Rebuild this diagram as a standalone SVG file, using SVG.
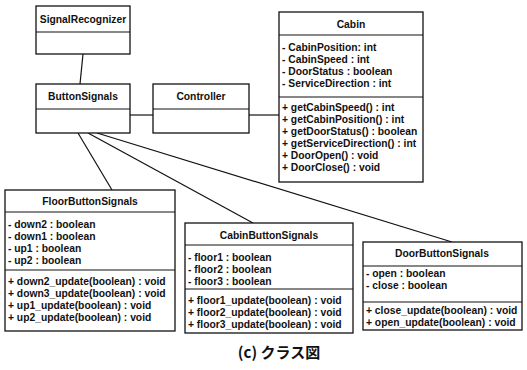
<svg xmlns="http://www.w3.org/2000/svg" width="527" height="370" viewBox="0 0 527 370">
<style>
.box{fill:#fff;stroke:#111;stroke-width:1.3}
.div{stroke:#111;stroke-width:1.1}
.t{font-family:"Liberation Sans",Arial,sans-serif;font-size:10.3px;font-weight:bold;fill:#111}
.c{text-anchor:middle}
.ln{stroke:#111;stroke-width:1.2;fill:none}
.cap{font-family:"Noto Sans CJK JP","Liberation Sans",sans-serif;font-size:15px;font-weight:bold;fill:#111;text-anchor:middle}
</style>
<rect width="527" height="370" fill="#fff"/>
<g id="connectors">
<line class="ln" x1="83" y1="54" x2="80" y2="84"/>
<line class="ln" x1="130" y1="115" x2="153" y2="115"/>
<line class="ln" x1="249" y1="115" x2="279" y2="115"/>
<line class="ln" x1="78" y1="133" x2="112" y2="190"/>
<line class="ln" x1="88" y1="133" x2="253" y2="223"/>
<line class="ln" x1="97" y1="133" x2="452" y2="242"/>
</g>
<g id="SignalRecognizer">
<rect class="box" x="36" y="6" width="94" height="48"/>
<line class="div" x1="36" y1="32" x2="130" y2="32"/>
<text class="t c" x="83" y="23">SignalRecognizer</text>
</g>
<g id="ButtonSignals">
<rect class="box" x="36" y="84" width="94" height="49"/>
<line class="div" x1="36" y1="109" x2="130" y2="109"/>
<text class="t c" x="83" y="100">ButtonSignals</text>
</g>
<g id="Controller">
<rect class="box" x="153" y="84" width="96" height="49"/>
<line class="div" x1="153" y1="109" x2="249" y2="109"/>
<text class="t c" x="201" y="100">Controller</text>
</g>
<g id="Cabin">
<rect class="box" x="279" y="12" width="144" height="170"/>
<line class="div" x1="279" y1="35" x2="423" y2="35"/>
<line class="div" x1="279" y1="97" x2="423" y2="97"/>
<text class="t c" x="351" y="28">Cabin</text>
<text class="t" x="282" y="51">- CabinPosition: int</text>
<text class="t" x="282" y="63">- CabinSpeed : int</text>
<text class="t" x="282" y="75">- DoorStatus : boolean</text>
<text class="t" x="282" y="87">- ServiceDirection : int</text>
<text class="t" x="282" y="111">+ getCabinSpeed() : int</text>
<text class="t" x="282" y="123">+ getCabinPosition() : int</text>
<text class="t" x="282" y="135">+ getDoorStatus() : boolean</text>
<text class="t" x="282" y="147">+ getServiceDirection() : int</text>
<text class="t" x="282" y="159">+ DoorOpen() : void</text>
<text class="t" x="282" y="171">+ DoorClose() : void</text>
</g>
<g id="FloorButtonSignals">
<rect class="box" x="5" y="190" width="170" height="141"/>
<line class="div" x1="5" y1="212" x2="175" y2="212"/>
<line class="div" x1="5" y1="270" x2="175" y2="270"/>
<text class="t c" x="90" y="205">FloorButtonSignals</text>
<text class="t" x="8" y="228">- down2 : boolean</text>
<text class="t" x="8" y="240">- down1 : boolean</text>
<text class="t" x="8" y="252">- up1 : boolean</text>
<text class="t" x="8" y="264">- up2 : boolean</text>
<text class="t" x="8" y="285">+ down2_update(boolean) : void</text>
<text class="t" x="8" y="297">+ down3_update(boolean) : void</text>
<text class="t" x="8" y="309">+ up1_update(boolean) : void</text>
<text class="t" x="8" y="321">+ up2_update(boolean) : void</text>
</g>
<g id="CabinButtonSignals">
<rect class="box" x="185" y="223" width="168" height="110"/>
<line class="div" x1="185" y1="245" x2="353" y2="245"/>
<line class="div" x1="185" y1="289" x2="353" y2="289"/>
<text class="t c" x="269" y="239">CabinButtonSignals</text>
<text class="t" x="188" y="261">- floor1 : boolean</text>
<text class="t" x="188" y="273">- floor2 : boolean</text>
<text class="t" x="188" y="285">- floor3 : boolean</text>
<text class="t" x="188" y="304">+ floor1_update(boolean) : void</text>
<text class="t" x="188" y="316">+ floor2_update(boolean) : void</text>
<text class="t" x="188" y="328">+ floor3_update(boolean) : void</text>
</g>
<g id="DoorButtonSignals">
<rect class="box" x="363" y="242" width="159" height="88"/>
<line class="div" x1="363" y1="266" x2="522" y2="266"/>
<line class="div" x1="363" y1="302" x2="522" y2="302"/>
<text class="t c" x="442" y="257">DoorButtonSignals</text>
<text class="t" x="366" y="277">- open : boolean</text>
<text class="t" x="366" y="289">- close : boolean</text>
<text class="t" x="366" y="314">+ close_update(boolean) : void</text>
<text class="t" x="366" y="326">+ open_update(boolean) : void</text>
</g>
<text class="cap" x="279" y="358">(c) クラス図</text>
</svg>
